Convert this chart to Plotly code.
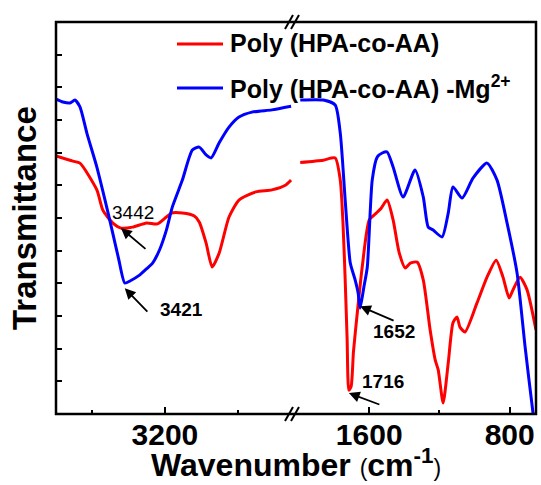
import plotly.graph_objects as go

FONT = "Liberation Sans, Arial, sans-serif"

# ---- spectra: high-wavenumber window (cm-1) ----
wn_hi_red = [3800, 3707, 3668, 3575, 3542, 3488, 3442, 3378, 3301, 3241, 3192, 3164,
             3104, 3038, 3011, 2973, 2940, 2901, 2847, 2792, 2699, 2611, 2534, 2505]
t_hi_red = [7.90, 7.74, 7.68, 6.86, 6.24, 5.85, 5.69, 5.72, 5.85, 5.82, 6.03, 6.15,
            6.15, 6.06, 5.88, 5.23, 4.50, 4.93, 6.03, 6.55, 6.80, 6.86, 7.01, 7.16]

wn_hi_blue = [3800, 3762, 3723, 3696, 3668, 3630, 3575, 3530, 3490, 3455, 3421, 3390,
              3340, 3300, 3268, 3230, 3192, 3159, 3104, 3049, 3011, 2973, 2945, 2901,
              2847, 2792, 2721, 2611, 2505]
t_hi_blue = [9.64, 9.55, 9.52, 9.61, 9.40, 8.60, 7.56, 6.55, 5.60, 4.75, 4.01, 4.08,
             4.25, 4.45, 4.62, 5.02, 5.63, 6.34, 7.16, 8.08, 8.17, 7.93, 7.84, 8.30,
             8.78, 9.09, 9.24, 9.31, 9.42]

# ---- spectra: fingerprint window (cm-1) ----
wn_lo_red = [1993, 1862, 1794, 1765, 1750, 1737, 1726, 1716, 1703, 1690, 1668, 1640,
             1600, 1560, 1532, 1498, 1464, 1430, 1395, 1366, 1327, 1292, 1253, 1224,
             1207, 1179, 1150, 1123, 1100, 1083, 1054, 986, 929, 877, 838, 803, 781,
             741, 701, 650]
t_lo_red = [7.70, 7.77, 7.84, 7.16, 5.90, 4.10, 2.30, 0.73, 0.85, 1.90, 3.10, 4.50,
            5.94, 6.15, 6.30, 6.55, 5.94, 4.95, 4.47, 4.62, 4.65, 4.10, 2.57, 1.65,
            1.35, 0.34, 1.56, 2.79, 2.97, 2.66, 2.51, 3.40, 4.19, 4.71, 4.19, 3.55, 3.80,
            4.19, 3.80, 2.57]

wn_lo_blue = [1993, 1862, 1794, 1765, 1737, 1708, 1680, 1663, 1652, 1630, 1611, 1583,
              1554, 1526, 1498, 1464, 1407, 1339, 1292, 1264, 1236, 1185, 1150, 1123,
              1071, 1009, 929, 872, 815, 758, 712, 667, 650]
t_lo_blue = [9.61, 9.61, 9.46, 8.60, 6.55, 4.62, 4.10, 3.70, 3.24, 3.90, 4.50, 7.16,
             7.87, 7.99, 8.02, 7.56, 6.64, 7.47, 6.64, 5.72, 5.63, 5.42, 6.15, 6.95,
             6.61, 7.22, 7.68, 7.16, 5.85, 4.32, 2.05, 0.03, -0.60]

# axis windows and ticks
range_hi = [3800, 2500]
range_lo = [2040, 650]
ticks_hi_major, ticks_hi_minor = [3200], [3600, 2800]
ticks_lo_major, ticks_lo_minor = [1600, 800], [1200]

RED, BLUE = "#ff0000", "#0000ff"
W, H = 541, 485
ML, MR, MT, MB = 56, 5, 22, 71
PW, PH = W - ML - MR, H - MT - MB
SPLIT = (292 - ML) / PW


def px(x, y):
    """pixel position -> paper coordinates"""
    return (x - ML) / PW, (H - MB - y) / PH


fig = go.Figure()
line_kw = dict(width=3, shape="spline", smoothing=0.6)
fig.add_trace(go.Scatter(x=wn_hi_red, y=t_hi_red, mode="lines", name="Poly (HPA-co-AA)",
                         line=dict(color=RED, **line_kw), xaxis="x", yaxis="y"))
fig.add_trace(go.Scatter(x=wn_hi_blue, y=t_hi_blue, mode="lines", name="Poly (HPA-co-AA) -Mg2+",
                         line=dict(color=BLUE, **line_kw), xaxis="x", yaxis="y"))
fig.add_trace(go.Scatter(x=wn_lo_red, y=t_lo_red, mode="lines", name="Poly (HPA-co-AA)",
                         line=dict(color=RED, **line_kw), xaxis="x2", yaxis="y"))
fig.add_trace(go.Scatter(x=wn_lo_blue, y=t_lo_blue, mode="lines", name="Poly (HPA-co-AA) -Mg2+",
                         line=dict(color=BLUE, **line_kw), xaxis="x2", yaxis="y"))

xcommon = dict(showgrid=False, zeroline=False, showline=False, ticks="inside", ticklen=7,
               tickwidth=2, tickcolor="black", tickfont=dict(family=FONT, size=30, color="black"))
fig.update_layout(
    width=W, height=H, margin=dict(l=ML, r=MR, t=MT, b=MB),
    paper_bgcolor="white", plot_bgcolor="white", showlegend=False,
    xaxis=dict(domain=[0, SPLIT], range=range_hi, anchor="y",
               tickmode="array", tickvals=ticks_hi_major,
               ticktext=[f"<b>{v}</b>" for v in ticks_hi_major],
               minor=dict(tickmode="array", tickvals=ticks_hi_minor, ticks="inside",
                          ticklen=4, tickwidth=2, tickcolor="black"),
               **xcommon),
    xaxis2=dict(domain=[SPLIT, 1], range=range_lo, anchor="y",
                tickmode="array", tickvals=ticks_lo_major,
                ticktext=[f"<b>{v}</b>" for v in ticks_lo_major],
                minor=dict(tickmode="array", tickvals=ticks_lo_minor, ticks="inside",
                           ticklen=4, tickwidth=2, tickcolor="black"),
                **xcommon),
    yaxis=dict(range=[0, 12], showgrid=False, zeroline=False, showline=False,
               tickmode="array", tickvals=list(range(1, 12)), showticklabels=False,
               ticks="inside", ticklen=6, tickwidth=2, tickcolor="black"),
)

# frame around both windows
fig.add_shape(type="rect", xref="paper", yref="paper", x0=0, x1=1, y0=0, y1=1,
              line=dict(color="black", width=2.5), layer="above")

# axis-break marks
for yb in (0, 1):
    for d in (-3, 3):
        x0, y0 = px(292 + d - 4, (H - MB) - yb * PH + 7)
        x1, y1 = px(292 + d + 4, (H - MB) - yb * PH - 7)
        fig.add_shape(type="line", xref="paper", yref="paper", x0=x0, y0=y0, x1=x1, y1=y1,
                      line=dict(color="black", width=2))

# legend drawn by hand
for ly, col, label in ((44, RED, "<b>Poly (HPA-co-AA)</b>"),
                       (88, BLUE, "<b>Poly (HPA-co-AA) -Mg<sup>2+</sup></b>")):
    a0, b0 = px(177, ly)
    a1, _ = px(223, ly)
    fig.add_shape(type="line", xref="paper", yref="paper", x0=a0, x1=a1, y0=b0, y1=b0,
                  line=dict(color=col, width=3))
    tx, ty = px(228, ly - 1)
    fig.add_annotation(xref="paper", yref="paper", x=tx, y=ty, text=label, showarrow=False,
                       xanchor="left", yanchor="middle",
                       font=dict(family=FONT, size=25, color="black"))

# peak markers: arrows
arrows = [("x", 3442, 5.69, 26, 22), ("x", 3421, 3.85, 24, 25),
          ("x2", 1652, 3.30, 35, 15), ("x2", 1716, 0.64, 32, 12)]
for xr, xv, yv, ax, ay in arrows:
    fig.add_annotation(xref=xr, yref="y", x=xv, y=yv, ax=ax, ay=ay, text="",
                       showarrow=True, arrowhead=2, arrowsize=1.2, arrowwidth=1.8,
                       arrowcolor="black")

# peak labels
peak_labels = [(3442, 133, 212, False), (3421, 181, 309, True),
               (1652, 394, 331, True), (1716, 383, 381, True)]
for val, lx, ly, bold in peak_labels:
    tx, ty = px(lx, ly)
    txt = f"<b>{val}</b>" if bold else str(val)
    fig.add_annotation(xref="paper", yref="paper", x=tx, y=ty, text=txt, showarrow=False,
                       xanchor="center", yanchor="middle",
                       font=dict(family=FONT, size=19, color="black"))

# axis titles
tx, ty = px(296, 463)
fig.add_annotation(xref="paper", yref="paper", x=tx, y=ty, showarrow=False,
                   text="<b>Wavenumber</b> <span style='font-size:23px'>(</span><b>cm<sup>-1</sup></b><span style='font-size:23px'>)</span>",
                   xanchor="center", yanchor="middle",
                   font=dict(family=FONT, size=32, color="black"))
tx, ty = px(24, 218)
fig.add_annotation(xref="paper", yref="paper", x=tx, y=ty, showarrow=False,
                   text="<b>Transmittance</b>", textangle=-90,
                   xanchor="center", yanchor="middle",
                   font=dict(family=FONT, size=33, color="black"))

fig.write_html("out.html")
